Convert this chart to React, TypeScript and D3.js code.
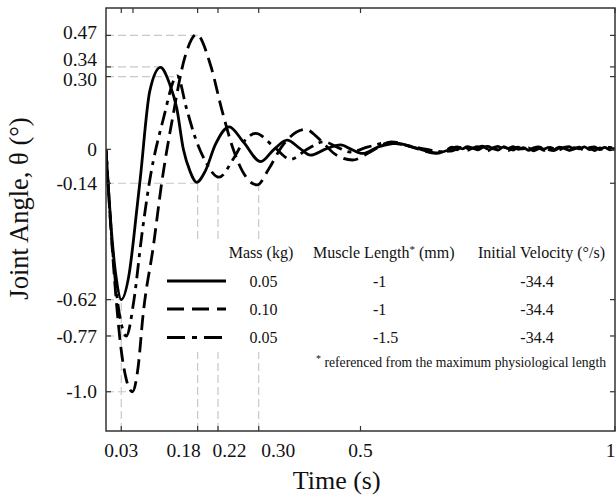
import React from 'react';
import * as d3 from 'd3';

type P = [number, number];

const xTicks = [0.03, 0.18, 0.22, 0.30, 0.5, 1];
const xTickLabels = ['0.03', '0.18', '0.22', '0.30', '0.5', '1'];
const xTopOnlyTicks = [0.053];
const yTicks = [0.47, 0.34, 0.30, 0, -0.14, -0.62, -0.77, -1.0];
const yTickLabels = ['0.47', '0.34', '0.30', '0', '-0.14', '-0.62', '-0.77', '-1.0'];

// guide lines: [value, time where the guide stops]
const hGuides: P[] = [[0.47, 0.18], [0.34, 0.108], [0.30, 0.14], [-0.14, 0.18], [-0.62, 0.03], [-0.77, 0.04], [-1.0, 0.052]];
// vertical guides: [time, value where the guide stops]
const vGuides: P[] = [[0.03, -0.62], [0.18, -0.14], [0.22, -0.115], [0.30, -0.147]];

const solidSeries: P[] = [
  [0, 0], [0.005, -0.17], [0.01, -0.32], [0.02, -0.53], [0.03, -0.62], [0.045, -0.52], [0.061, -0.24],
  [0.067, -0.127], [0.086, 0.24], [0.107, 0.338], [0.125, 0.27], [0.139, 0.17], [0.152, 0.0], [0.165, -0.09],
  [0.178, -0.136], [0.195, -0.09], [0.215, 0.02], [0.242, 0.093], [0.27, 0.03], [0.304, -0.051], [0.33, 0.0],
  [0.356, 0.038], [0.38, 0.005], [0.402, -0.024], [0.43, 0.0], [0.461, 0.018], [0.482, 0.0], [0.504, -0.017],
  [0.535, 0.01], [0.57, 0.025], [0.61, 0.005], [0.65, -0.015], [0.67, -0.005],
  [0.68, 0.004], [0.69, 0.010], [0.70, 0.002], [0.71, 0.011], [0.72, 0.005], [0.73, -0.002], [0.74, 0.008],
  [0.75, 0.012], [0.76, 0.003], [0.77, -0.003], [0.78, 0.009], [0.79, 0.004], [0.80, 0.011], [0.81, 0.0],
  [0.82, 0.007], [0.83, -0.004], [0.84, 0.006], [0.85, 0.010], [0.86, 0.001], [0.87, 0.008], [0.88, -0.002],
  [0.89, 0.009], [0.90, 0.004], [0.91, -0.003], [0.92, 0.007], [0.93, 0.002], [0.94, 0.010], [0.95, -0.001],
  [0.96, 0.006], [0.97, 0.001], [0.98, 0.008], [0.99, -0.002], [1.0, 0.004],
];

const dashedSeries: P[] = [
  [0, 0], [0.01, -0.34], [0.02, -0.62], [0.03, -0.83], [0.04, -0.95], [0.052, -1.0], [0.063, -0.9],
  [0.073, -0.68], [0.093, -0.40], [0.11, -0.13], [0.13, 0.12], [0.155, 0.38], [0.178, 0.474], [0.205, 0.35],
  [0.228, 0.16], [0.25, 0.0], [0.268, -0.09], [0.297, -0.147], [0.32, -0.08], [0.345, 0.01], [0.392, 0.082],
  [0.42, 0.04], [0.45, -0.02], [0.484, -0.044], [0.52, -0.01], [0.56, 0.031], [0.6, 0.01], [0.65, -0.017],
  [0.67, -0.008],
  [0.68, -0.006], [0.69, 0.002], [0.70, 0.008], [0.71, -0.004], [0.72, 0.005], [0.73, 0.011], [0.74, -0.001],
  [0.75, -0.006], [0.76, 0.006], [0.77, 0.012], [0.78, 0.001], [0.79, -0.005], [0.80, 0.004], [0.81, 0.009],
  [0.82, -0.003], [0.83, 0.006], [0.84, -0.006], [0.85, 0.003], [0.86, 0.010], [0.87, -0.001], [0.88, -0.005],
  [0.89, 0.005], [0.90, 0.008], [0.91, -0.004], [0.92, 0.002], [0.93, 0.009], [0.94, -0.002], [0.95, 0.005],
  [0.96, -0.005], [0.97, 0.006], [0.98, 0.0], [0.99, 0.004], [1.0, -0.002],
];

const dashDotSeries: P[] = [
  [0, 0], [0.005, -0.17], [0.01, -0.33], [0.02, -0.58], [0.03, -0.72], [0.04, -0.77], [0.055, -0.62],
  [0.07, -0.36], [0.086, -0.127], [0.112, 0.12], [0.14, 0.303], [0.158, 0.17], [0.175, 0.05], [0.194, -0.044],
  [0.222, -0.115], [0.25, -0.04], [0.27, 0.03], [0.294, 0.066], [0.33, 0.01], [0.363, -0.041], [0.395, 0.0],
  [0.428, 0.031], [0.455, 0.008], [0.48, -0.011], [0.515, 0.01], [0.553, 0.027], [0.61, 0.008], [0.662, -0.01],
  [0.68, 0.009], [0.69, -0.002], [0.70, 0.012], [0.71, 0.004], [0.72, -0.004], [0.73, 0.007], [0.74, 0.013],
  [0.75, 0.001], [0.76, 0.008], [0.77, -0.002], [0.78, 0.011], [0.79, 0.004], [0.80, -0.003], [0.81, 0.010],
  [0.82, 0.002], [0.83, 0.012], [0.84, -0.001], [0.85, 0.006], [0.86, -0.004], [0.87, 0.009], [0.88, 0.003],
  [0.89, -0.002], [0.90, 0.008], [0.91, 0.011], [0.92, 0.0], [0.93, 0.005], [0.94, -0.004], [0.95, 0.007],
  [0.96, 0.010], [0.97, -0.001], [0.98, 0.005], [0.99, 0.008], [1.0, 0.001],
];

const legendMass = ['0.05', '0.10', '0.05'];
const legendLength = ['-1', '-1', '-1.5'];
const legendVelocity = ['-34.4', '-34.4', '-34.4'];

const W = 616;
const H = 497;
const L = 106, R = 615, T = 8, B = 431;
const FONT = '"Liberation Serif", "Times New Roman", serif';

export default function App() {
  const x = d3.scaleLinear().domain([0, 1]).range([L, R]);
  const y = d3.scaleLinear().domain([-1.162, 0.583]).range([B, T]);
  const line = d3.line<P>().x(d => x(d[0])).y(d => y(d[1])).curve(d3.curveMonotoneX);

  const series = [
    { data: solidSeries, dash: undefined as string | undefined, legendDash: undefined as string | undefined },
    { data: dashedSeries, dash: '15,7', legendDash: '17,8' },
    { data: dashDotSeries, dash: '15,6,4,6', legendDash: '18,7,5,7' },
  ];

  const xLabelDx: Record<string, number> = { '0.18': -14, '0.22': 11.5, '0.30': 19.5 };
  const yLabelDy: Record<string, number> = { '0.47': -3, '0.34': -8, '0.30': 3 };
  const rowY = [281, 309, 337.5];
  const tick = 5;

  return (
    <svg width={W} height={H} style={{ position: 'absolute', left: 0, top: 0, background: '#fff' }} fontFamily={FONT}>
      <defs>
        <clipPath id="plot"><rect x={L} y={T} width={R - L} height={B - T} /></clipPath>
      </defs>
      <rect x={0} y={0} width={W} height={H} fill="#fff" />

      {/* guide lines */}
      <g stroke="#c8c8c8" strokeWidth={1.2} strokeDasharray="8,4" fill="none">
        {hGuides.map(([v, t], i) => (
          <line key={'h' + i} x1={L} x2={x(t)} y1={y(v)} y2={y(v)} />
        ))}
        {vGuides.map(([t, v], i) => (
          <line key={'v' + i} x1={x(t)} x2={x(t)} y1={B} y2={y(v)} />
        ))}
      </g>

      {/* curves */}
      <g clipPath="url(#plot)" fill="none" stroke="#000" strokeWidth={2.8} strokeLinejoin="round">
        {series.map((s, i) => (
          <path key={i} d={line(s.data) || ''} strokeDasharray={s.dash} />
        ))}
      </g>

      {/* legend */}
      <rect x={160} y={240} width={452} height={112} fill="#fff" />
      <g fontSize={16} fill="#111">
        <text x={261} y={258} textAnchor="middle">Mass (kg)</text>
        <text x={313} y={258}>
          Muscle Length<tspan fontSize={11} dy={-5}>*</tspan><tspan dy={5}> (mm)</tspan>
        </text>
        <text x={478} y={258}>Initial Velocity (°/s)</text>
        {series.map((s, i) => (
          <g key={i}>
            <line x1={167} x2={226} y1={rowY[i]} y2={rowY[i]} stroke="#000" strokeWidth={2.8} strokeDasharray={s.legendDash} />
            <text x={263.5} y={rowY[i] + 5.5} textAnchor="middle">{legendMass[i]}</text>
            <text x={373} y={rowY[i] + 5.5}>{legendLength[i]}</text>
            <text x={537} y={rowY[i] + 5.5} textAnchor="middle">{legendVelocity[i]}</text>
          </g>
        ))}
        <text x={316} y={367} fontSize={13.7}>
          <tspan fontSize={10} dy={-5}>*</tspan><tspan dy={5}> referenced from the maximum physiological length</tspan>
        </text>
      </g>

      {/* frame */}
      <rect x={L} y={T} width={R - L} height={B - T} fill="none" stroke="#333" strokeWidth={1.5} />

      {/* ticks */}
      <g stroke="#333" strokeWidth={1.2}>
        {yTicks.map((v, i) => (
          <g key={'yt' + i}>
            <line x1={L} x2={L + tick} y1={y(v)} y2={y(v)} />
            <line x1={R - tick} x2={R} y1={y(v)} y2={y(v)} />
          </g>
        ))}
        {xTicks.map((t, i) => (
          <g key={'xt' + i}>
            <line x1={x(t)} x2={x(t)} y1={B} y2={B - tick} />
            <line x1={x(t)} x2={x(t)} y1={T} y2={T + tick} />
          </g>
        ))}
        {xTopOnlyTicks.map((t, i) => (
          <line key={'xo' + i} x1={x(t)} x2={x(t)} y1={T} y2={T + tick} />
        ))}
      </g>

      {/* tick labels */}
      <g fontSize={19.5} fill="#111">
        {yTicks.map((v, i) => (
          <text key={'yl' + i} x={97} y={y(v) + (yLabelDy[yTickLabels[i]] || 0)} dy="0.34em" textAnchor="end">
            {yTickLabels[i]}
          </text>
        ))}
        {xTicks.map((t, i) => {
          const last = i === xTicks.length - 1;
          return (
            <text key={'xl' + i} x={last ? W - 0.5 : x(t) + (xLabelDx[xTickLabels[i]] || 0)} y={457}
              textAnchor={last ? 'end' : 'middle'}>
              {xTickLabels[i]}
            </text>
          );
        })}
      </g>

      {/* axis titles */}
      <text x={336.7} y={489} fontSize={26} textAnchor="middle" fill="#111">Time (s)</text>
      <text transform="translate(28,208.5) rotate(-90)" fontSize={26.5} textAnchor="middle" fill="#111">
        Joint Angle, θ (°)
      </text>
    </svg>
  );
}
